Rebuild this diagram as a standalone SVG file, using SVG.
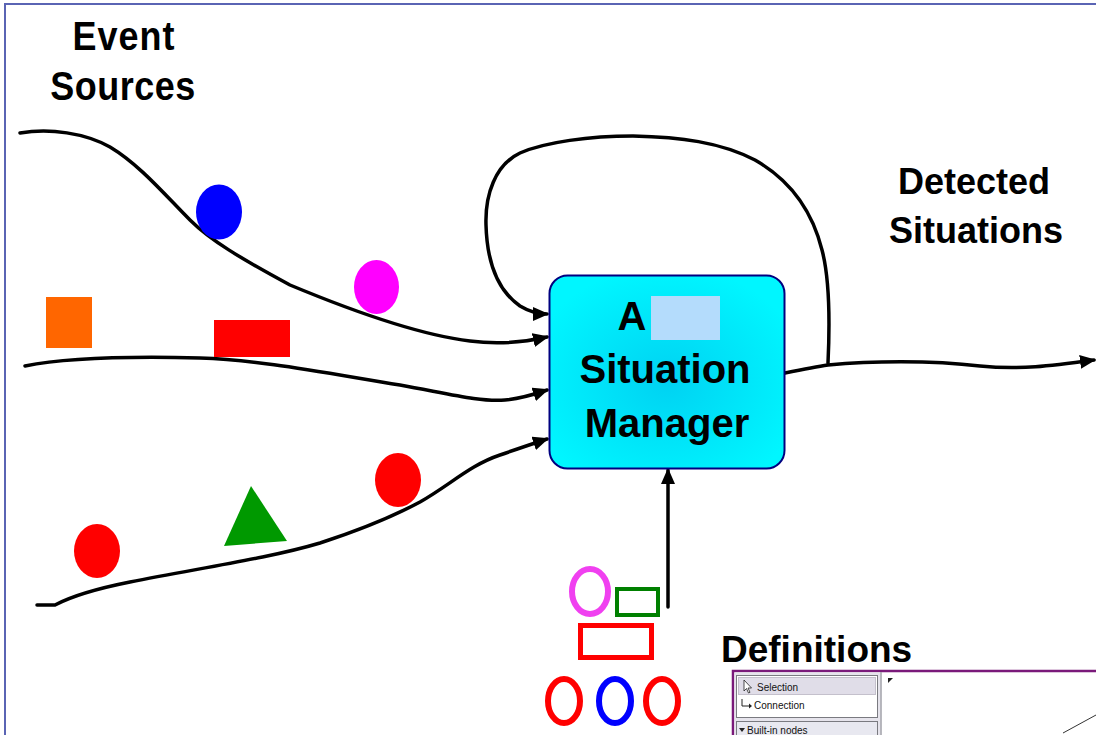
<svg xmlns="http://www.w3.org/2000/svg" width="1096" height="735" viewBox="0 0 1096 735">
<style>
.t{font-family:"Liberation Sans",Arial,sans-serif;font-weight:bold;fill:#000}
.c{fill:none;stroke:#000;stroke-width:3.5;stroke-linecap:round;stroke-linejoin:round}
.ui{font-family:"Liberation Sans",Arial,sans-serif;font-size:10px;fill:#111}
</style>
<defs>
<marker id="ah" markerUnits="userSpaceOnUse" markerWidth="16" markerHeight="14" viewBox="0 0 16 14" refX="14" refY="7" orient="auto">
<path d="M0,0 L16,7 L0,14 z" fill="#000"/>
</marker>
<radialGradient id="cy" cx="0.5" cy="0.55" r="0.6">
<stop offset="0" stop-color="#00d2f2"/>
<stop offset="1" stop-color="#00f6ff"/>
</radialGradient>
</defs>
<rect width="1096" height="735" fill="#fff"/>
<path d="M5,735 L5,4 L1096,4" fill="none" stroke="#5a64b4" stroke-width="2"/>

<g id="labels">
<text class="t" font-size="36" text-anchor="middle" transform="scale(1,1.12)" x="124" y="45" letter-spacing="1">Event</text>
<text class="t" font-size="36" text-anchor="middle" transform="scale(1,1.12)" x="123" y="89.5" letter-spacing="0.5">Sources</text>
<text class="t" font-size="36" text-anchor="middle" x="974" y="194">Detected</text>
<text class="t" font-size="36" text-anchor="middle" x="976" y="243">Situations</text>
<text class="t" font-size="37" x="721" y="662">Definitions</text>
</g>

<g id="connectors">
<path class="c" d="M20,133 C50,128 85,133 110,147 C140,165 165,195 190,220 C210,240 240,258 290,285 C350,310 420,335 470,341 C500,345 525,342 547,337" marker-end="url(#ah)"/>
<path class="c" d="M25,366 C60,359 120,356 200,358 C260,360 320,372 400,385 C450,394 480,402 505,400 C525,398 538,393 547,390" marker-end="url(#ah)"/>
<path class="c" d="M37,605 L55,605 C70,597 100,588 130,582 C200,568 270,558 320,543 C360,530 390,518 420,502 C450,485 470,465 500,455 C520,448 535,443 547,439" marker-end="url(#ah)"/>
<path class="c" d="M828,363 C830,320 830,280 822,250 C812,210 790,180 755,160 C720,142 680,137 633,136 C590,136 545,142 520,153 C495,165 485,195 486,225 C487,262 497,290 520,306 C530,312 540,314 547,314" marker-end="url(#ah)"/>
<path class="c" d="M785,373 C800,370 815,367 828,365 C870,361 930,360 980,366 C1020,370 1050,366 1094,360" marker-end="url(#ah)"/>
<path class="c" d="M668,607 L668,470" marker-end="url(#ah)"/>
</g>

<g id="events">
<ellipse cx="219" cy="212" rx="23" ry="27.5" fill="#0000ff"/>
<ellipse cx="376.5" cy="287" rx="22.5" ry="27" fill="#ff00ff"/>
<rect x="46" y="297" width="46" height="51" fill="#ff6600"/>
<rect x="214" y="320" width="76" height="37" fill="#ff0000"/>
<ellipse cx="97" cy="551" rx="23" ry="27" fill="#ff0000"/>
<polygon points="251,486 224,546 287,541" fill="#009900"/>
<ellipse cx="398" cy="480" rx="23" ry="27" fill="#ff0000"/>
</g>

<g id="manager">
<rect x="549.5" y="275.5" width="235" height="193" rx="18" fill="url(#cy)" stroke="#000080" stroke-width="2"/>
<text class="t" font-size="40" text-anchor="middle" x="632" y="330">A</text>
<rect x="651" y="296" width="69" height="44" fill="#b4dcfc"/>
<text class="t" font-size="40" text-anchor="middle" x="665" y="383">Situation</text>
<text class="t" font-size="40" text-anchor="middle" x="667" y="437">Manager</text>
</g>

<g id="definition-shapes" fill="none">
<ellipse cx="590" cy="591.5" rx="18" ry="22.5" stroke="#f040f0" stroke-width="6"/>
<rect x="617" y="589" width="41" height="26" stroke="#008000" stroke-width="4"/>
<rect x="580.5" y="625.5" width="71" height="32" stroke="#ff0000" stroke-width="5"/>
<ellipse cx="564" cy="701" rx="16" ry="22" stroke="#ff0000" stroke-width="6"/>
<ellipse cx="615" cy="701" rx="16" ry="22" stroke="#0000ff" stroke-width="6"/>
<ellipse cx="662" cy="701" rx="16" ry="22" stroke="#ff0000" stroke-width="6"/>
</g>

<g id="definitions-panel">
<rect x="733" y="671" width="380" height="80" fill="#fff" stroke="#7a1a7a" stroke-width="2.5"/>
<rect x="734.5" y="672.5" width="146" height="70" fill="#e6e4ec"/>
<line x1="881" y1="672" x2="881" y2="735" stroke="#a0a0a8" stroke-width="1.5"/>
<rect x="736.5" y="675.5" width="141" height="42" fill="#fff" stroke="#7a7a80"/>
<rect x="738.5" y="677.5" width="137" height="17" fill="#e0dde8" stroke="#c4c0cc"/>
<path d="M744,680 L744,691 L746.5,688.5 L748.5,693 L750,692.3 L748,688 L751.5,688 z" fill="#fff" stroke="#222" stroke-width="0.8"/>
<text class="ui" x="757" y="690.5">Selection</text>
<path d="M742,699 L742,706 L750,706" fill="none" stroke="#222" stroke-width="1"/>
<path d="M749,703.5 L752,706 L749,708.5 z" fill="#222"/>
<text class="ui" x="754" y="708.5">Connection</text>
<rect x="736.5" y="721.5" width="141" height="20" fill="#e8e8f0" stroke="#7a7a80"/>
<path d="M739,728 L745,728 L742,732 z" fill="#222"/>
<text class="ui" x="747" y="734" font-size="9.5">Built-in nodes</text>
<path d="M888,678 L893,678 L888,683 z" fill="#222"/>
<line x1="1063" y1="733" x2="1096" y2="715" stroke="#333" stroke-width="1"/>
</g>
</svg>
